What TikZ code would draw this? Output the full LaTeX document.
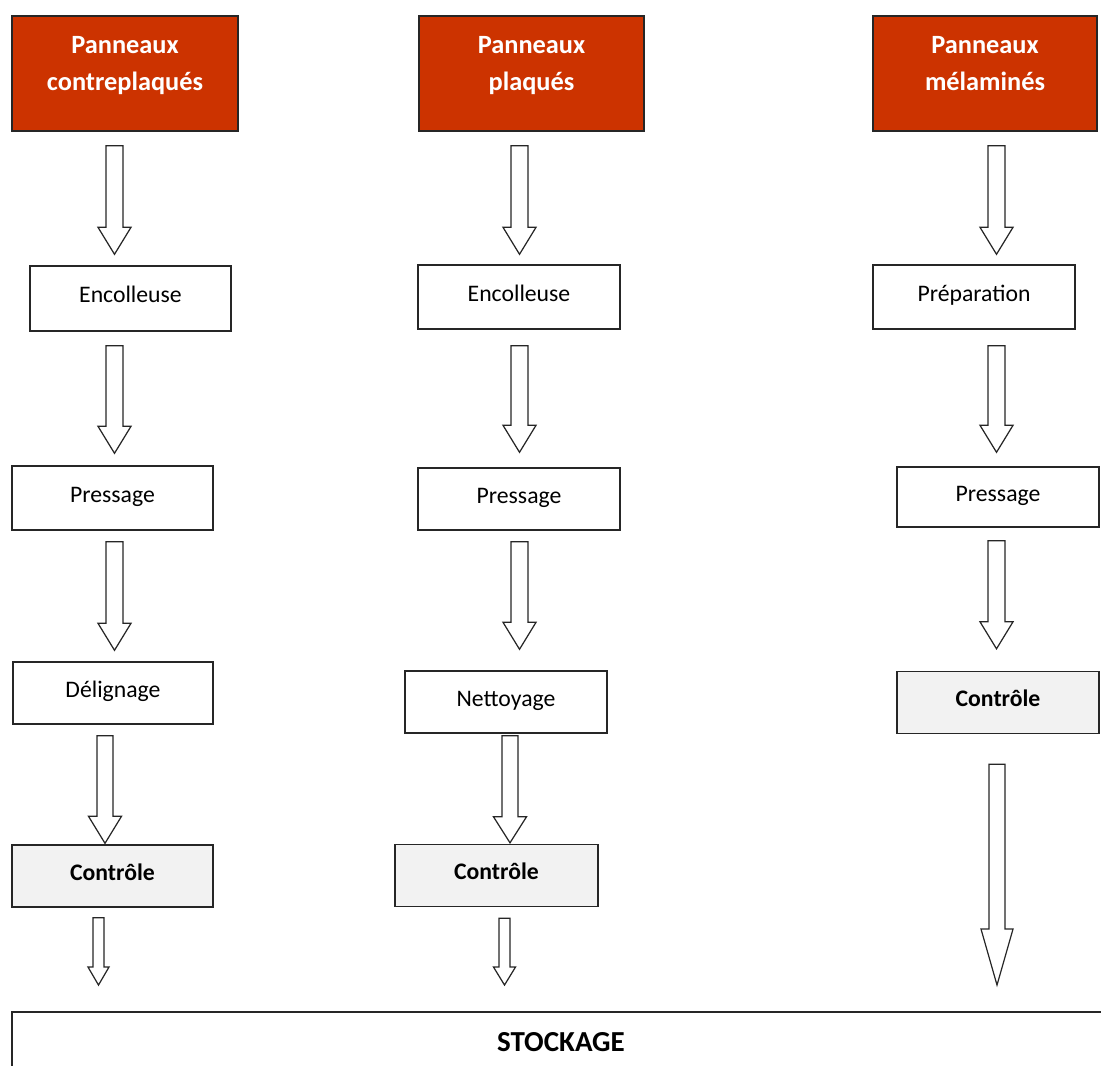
\documentclass[tikz,border=0pt]{standalone}
\usepackage{fontspec}
\setmainfont{Carlito}
\usetikzlibrary{calc}
\definecolor{rouge}{HTML}{CC3300}
\definecolor{grisclair}{HTML}{F2F2F2}
% fleche creuse : [tige/tete/longueur tete]{x}{depart}{arrivee}{ecart haut}{ecart bas}
\def\flechedims#1/#2/#3\relax{\def\fs{#1}\def\fh{#2}\def\fl{#3}}
\newcommand\fleche[6][8.5/16.5/27]{%
	\flechedims#1\relax
	\path (#2 |- #3.south) ++(0,#5) coordinate (ftop);
	\path (#2 |- #4.north) ++(0,-#6) coordinate (ftip);
	\draw[fleche] ($(ftop)+(-\fs,0)$) -- ($(ftip)+(-\fs,-\fl)$) -- ($(ftip)+(-\fh,-\fl)$) -- (ftip)
		-- ($(ftip)+(\fh,-\fl)$) -- ($(ftip)+(\fs,-\fl)$) -- ($(ftop)+(\fs,0)$) -- cycle;}
\begin{document}
\begin{tikzpicture}[x=0.02cm, y=-0.02cm, line join=miter,
	font=\fontsize{13.5}{16}\selectfont,
	cadre/.style 2 args={draw=black!85, line width=0.8pt, inner sep=0pt,
		minimum width=#1*0.02cm, minimum height=#2*0.02cm},
	boite/.style 2 args={cadre={#1}{#2}, text height=0.38cm, text depth=0.22cm},
	titre/.style={cadre={#1}{115}, fill=rouge, text=white, align=center,
		font=\fontsize{15}{21}\selectfont\bfseries},
	controle/.style={boite={#1}{62}, fill=grisclair, font=\fontsize{13.5}{16}\selectfont\bfseries},
	fleche/.style={draw=black!85, line width=0.7pt, fill=white}]
	\useasboundingbox (0,0) rectangle (1101,1065);
	% colonne 1
	\node[titre=226] (t1) at (125,73.5) {Panneaux\\contreplaqués\\[-10pt]\mbox{}};
	\node[boite={201}{65}] (a1) at (130.5,298.5) {Encolleuse};
	\node[boite={201}{64}] (b1) at (112.5,498) {Pressage};
	\node[boite={200}{62}] (c1) at (113,693) {Délignage};
	\node[controle=201] (d1) at (112.5,876) {Contrôle};
	% colonne 2
	\node[titre=225] (t2) at (531.5,73.5) {Panneaux\\plaqués\\[-10pt]\mbox{}};
	\node[boite={202}{64}] (a2) at (519,297) {Encolleuse};
	\node[boite={202}{62}] (b2) at (519,499) {Pressage};
	\node[boite={202}{62}] (c2) at (506,702) {Nettoyage};
	\node[controle=203] (d2) at (496.5,875.5) {Contrôle};
	% colonne 3
	\node[titre=224] (t3) at (985,73.5) {Panneaux\\mélaminés\\[-10pt]\mbox{}};
	\node[boite={202}{64}] (a3) at (974,297) {Préparation};
	\node[boite={202}{60}] (b3) at (998,497) {Pressage};
	\node[controle=202] (c3) at (998,702.5) {Contrôle};
	% stockage
	\node[cadre={1098}{60}, line width=1.1pt, font=\fontsize{16.5}{20}\selectfont\bfseries] (stock) at (561,1042) {STOCKAGE};
	% fleches
	\fleche{114.5,0}{t1}{a1}{14}{11}
	\fleche{114.5,0}{a1}{b1}{14}{12}
	\fleche{114.5,0}{b1}{c1}{11}{11}
	\fleche[8/16.5/27]{105,0}{c1}{d1}{11}{1}
	\fleche[5.5/10.5/18]{98.5,0}{d1}{stock}{10}{26}
	\fleche{519.5,0}{t2}{a2}{14}{10}
	\fleche{519.5,0}{a2}{b2}{16}{15}
	\fleche{519.5,0}{b2}{c2}{11}{21}
	\fleche[8/16.5/26]{510,0}{c2}{d2}{2}{1}
	\fleche[5.5/11/18]{504.5,0}{d2}{stock}{11}{26}
	\fleche{996.5,0}{t3}{a3}{14}{10}
	\fleche{996.5,0}{a3}{b3}{16}{14}
	\fleche{996.5,0}{b3}{c3}{13}{22}
	\fleche[8/16/56]{997,0}{c3}{stock}{30}{26}
\end{tikzpicture}
\end{document}
